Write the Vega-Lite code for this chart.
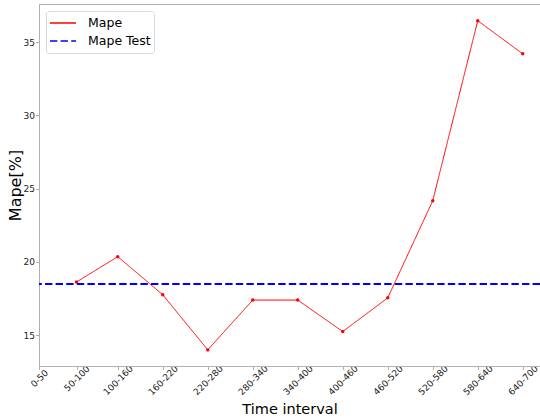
{
  "$schema": "https://vega.github.io/schema/vega-lite/v6.json",
  "autosize": "none",
  "width": 501,
  "height": 362,
  "padding": {"left": 39, "top": 4, "right": 0, "bottom": 54},
  "background": "white",
  "config": {
    "font": "DejaVu Sans",
    "view": {"stroke": "#b0b0b0", "strokeWidth": 1},
    "axis": {
      "grid": false,
      "domainColor": "#b0b0b0",
      "tickColor": "#b0b0b0",
      "tickSize": 3.5,
      "labelFont": "DejaVu Sans",
      "labelFontSize": 9.5,
      "labelColor": "#222222",
      "titleFont": "DejaVu Sans",
      "titleFontWeight": "normal",
      "titleColor": "#000000"
    },
    "legend": {
      "orient": "top-left",
      "offset": 7,
      "padding": 3,
      "strokeColor": "#d9d9d9",
      "fillColor": "#ffffff",
      "cornerRadius": 3,
      "labelFont": "DejaVu Sans",
      "labelFontSize": 12.5,
      "labelColor": "#000000",
      "symbolType": "stroke",
      "symbolSize": 676,
      "clipHeight": 18,
      "labelOffset": 11,
      "rowPadding": 0
    }
  },
  "layer": [
    {
      "data": {
        "values": [
          {"interval": "50-100", "mid": 75, "mape": 18.63, "series": "Mape"},
          {"interval": "100-160", "mid": 130, "mape": 20.36, "series": "Mape"},
          {"interval": "160-220", "mid": 190, "mape": 17.76, "series": "Mape"},
          {"interval": "220-280", "mid": 250, "mape": 14.0, "series": "Mape"},
          {"interval": "280-340", "mid": 310, "mape": 17.4, "series": "Mape"},
          {"interval": "340-400", "mid": 370, "mape": 17.4, "series": "Mape"},
          {"interval": "400-460", "mid": 430, "mape": 15.25, "series": "Mape"},
          {"interval": "460-520", "mid": 490, "mape": 17.55, "series": "Mape"},
          {"interval": "520-580", "mid": 550, "mape": 24.18, "series": "Mape"},
          {"interval": "580-640", "mid": 610, "mape": 36.46, "series": "Mape"},
          {"interval": "640-700", "mid": 670, "mape": 34.2, "series": "Mape"}
        ]
      },
      "mark": {"type": "line", "strokeWidth": 1, "point": {"filled": true, "size": 12}},
      "encoding": {
        "x": {
          "field": "mid",
          "type": "quantitative",
          "scale": {"domain": [25, 693], "nice": false, "zero": false},
          "axis": {
            "title": "Time interval",
            "titleFontSize": 14.5,
            "values": [25, 75, 130, 190, 250, 310, 370, 430, 490, 550, 610, 670],
            "labelExpr": "datum.value==25?'0-50':datum.value==75?'50-100':(datum.value-30)+'-'+(datum.value+30)",
            "labelAngle": -45,
            "labelFontSize": 9,
            "labelAlign": "center",
            "labelBaseline": "middle",
            "labelPadding": {"expr": "2 + (length(datum.label)*5.2 + 8)/2.83"},
            "labelOverlap": false,
            "labelFlush": false,
            "labelBound": false,
            "titlePadding": 6
          }
        },
        "y": {
          "field": "mape",
          "type": "quantitative",
          "scale": {"domain": [12.9, 37.6], "nice": false, "zero": false},
          "axis": {
            "title": "Mape[%]",
            "titleFontSize": 16,
            "values": [15, 20, 25, 30, 35],
            "labelFontSize": 9,
            "labelPadding": 1,
            "titlePadding": 0
          }
        },
        "color": {
          "field": "series",
          "type": "nominal",
          "scale": {"domain": ["Mape", "Mape Test"], "range": ["#ff0000", "#0000ff"]},
          "legend": {"title": null}
        },
        "strokeDash": {
          "field": "series",
          "type": "nominal",
          "scale": {"domain": ["Mape", "Mape Test"], "range": [[1, 0], [7.4, 3.2]]},
          "legend": {"title": null}
        }
      }
    },
    {
      "data": {"values": [{"series": "Mape Test", "mape": 18.5}]},
      "mark": {"type": "rule", "strokeWidth": 2},
      "encoding": {
        "y": {"field": "mape", "type": "quantitative"},
        "color": {"field": "series", "type": "nominal"},
        "strokeDash": {"field": "series", "type": "nominal"}
      }
    }
  ]
}
